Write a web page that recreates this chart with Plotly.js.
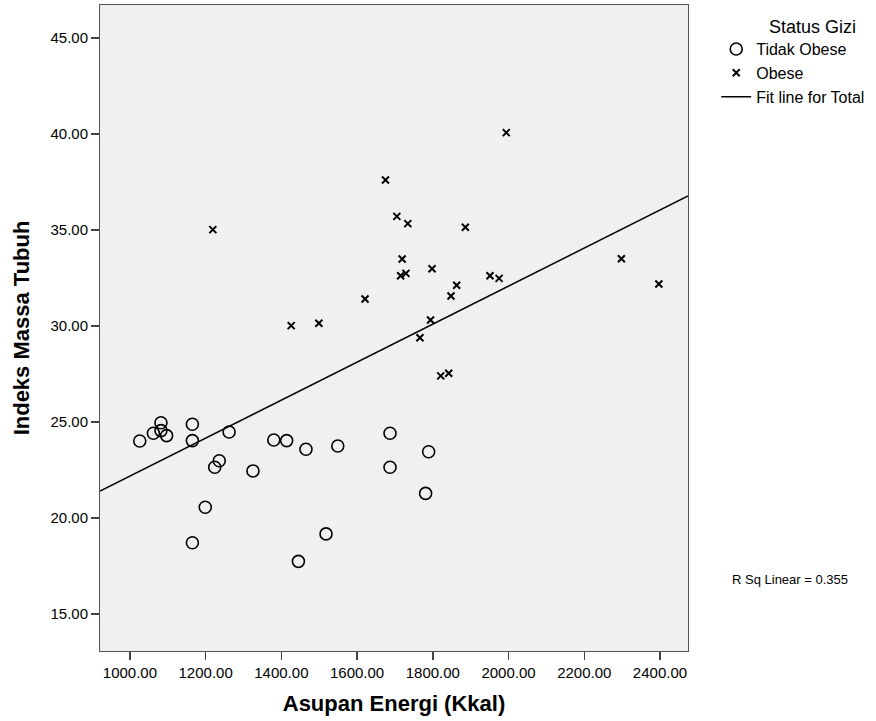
<!DOCTYPE html>
<html>
<head>
<meta charset="utf-8">
<script src="https://cdn.plot.ly/plotly-3.0.1.min.js"></script>
<style>html,body{margin:0;padding:0;background:#fff;}#chart{width:876px;height:721px;}</style>
</head>
<body>
<div id="chart"></div>
<script>
// Tidak Obese (circles)
var tidakX = [1026,1062,1082,1082,1097,1165,1165,1165,1199,1224,1236,1262,1325,1380,1414,1445,1465,1518,1549,1687,1687,1781,1789];
var tidakY = [24.01,24.41,24.96,24.55,24.29,24.88,24.03,18.71,20.56,22.64,22.98,24.48,22.45,24.06,24.03,17.74,23.58,19.17,23.75,24.41,22.64,21.28,23.45];
// Obese (crosses)
var obeseX = [1994,1675,1219,1705,1734,1886,1719,1715,1729,1798,1863,1848,1951,1975,1621,1426,1499,1794,1766,1821,1842,2298,2397];
var obeseY = [40.07,37.60,35.02,35.71,35.33,35.14,33.49,32.62,32.74,32.98,32.12,31.56,32.62,32.48,31.41,30.02,30.14,30.31,29.39,27.40,27.54,33.50,32.19];
var xTicks = [1000,1200,1400,1600,1800,2000,2200,2400];
var yTicks = [15,20,25,30,35,40,45];
var xRange = [921, 2474];
var yRange = [13.07, 46.72];

// least-squares fit over all points
var allX = tidakX.concat(obeseX), allY = tidakY.concat(obeseY);
var n = allX.length, mx = 0, my = 0;
for (var i = 0; i < n; i++) { mx += allX[i]; my += allY[i]; }
mx /= n; my /= n;
var sxy = 0, sxx = 0;
for (var i = 0; i < n; i++) { sxy += (allX[i]-mx)*(allY[i]-my); sxx += (allX[i]-mx)*(allX[i]-mx); }
var slope = sxy / sxx, intercept = my - slope * mx;
var fitX = xRange.slice();
var fitY = fitX.map(function (v) { return intercept + slope * v; });

var font = "Liberation Sans, Arial, sans-serif";
var traces = [
  {x: tidakX, y: tidakY, type: 'scatter', mode: 'markers', name: 'Tidak Obese', legendgroup: 'a',
   marker: {symbol: 'circle-open', size: 12, color: '#000', line: {width: 1.6, color: '#000'}}},
  {x: obeseX, y: obeseY, type: 'scatter', mode: 'markers', name: 'Obese', legendgroup: 'b',
   marker: {symbol: 'x-thin-open', size: 7, color: '#000', line: {width: 2, color: '#000'}}},
  {x: fitX, y: fitY, type: 'scatter', mode: 'lines', name: 'Fit line for Total', legendgroup: 'c',
   line: {color: '#000', width: 1.5}}
];
var layout = {
  width: 876, height: 721,
  margin: {l: 100, r: 188, t: 5, b: 70},
  paper_bgcolor: '#fff', plot_bgcolor: '#f0f0f0',
  font: {family: font, size: 12, color: '#000'},
  showlegend: true,
  legend: {x: 1.048, y: 0.958, xanchor: 'left', yanchor: 'top', traceorder: 'grouped',
           font: {size: 16}, tracegroupgap: 0, itemwidth: 30, bgcolor: 'rgba(0,0,0,0)'},
  xaxis: {range: xRange, tickvals: xTicks, ticktext: xTicks.map(function(v){return v.toFixed(2);}),
          showgrid: false, zeroline: false, showline: true, mirror: true, linecolor: '#555', linewidth: 1,
          ticks: 'outside', ticklen: 8, tickcolor: '#444', tickwidth: 1.5,
          tickfont: {size: 15},
          title: {text: '<b>Asupan Energi (Kkal)</b>', font: {size: 22}, standoff: 15}},
  yaxis: {range: yRange, tickvals: yTicks, ticktext: yTicks.map(function(v){return v.toFixed(2);}),
          showgrid: false, zeroline: false, showline: true, mirror: true, linecolor: '#555', linewidth: 1,
          ticks: 'outside', ticklen: 8, tickcolor: '#444', tickwidth: 1.5,
          tickfont: {size: 15},
          title: {text: '<b>Indeks Massa Tubuh</b>', font: {size: 22}, standoff: 14}},
  annotations: [
    {xref: 'paper', yref: 'paper', x: 1.211, y: 0.966, xanchor: 'center', yanchor: 'middle',
     text: 'Status Gizi', showarrow: false, font: {size: 18}},
    {xref: 'paper', yref: 'paper', x: 1.0714, y: 0.11, xanchor: 'left', yanchor: 'middle',
     text: 'R Sq Linear = 0.355', showarrow: false, font: {size: 13}}
  ]
};
Plotly.newPlot('chart', traces, layout, {displayModeBar: false, staticPlot: true});
</script>
</body>
</html>
